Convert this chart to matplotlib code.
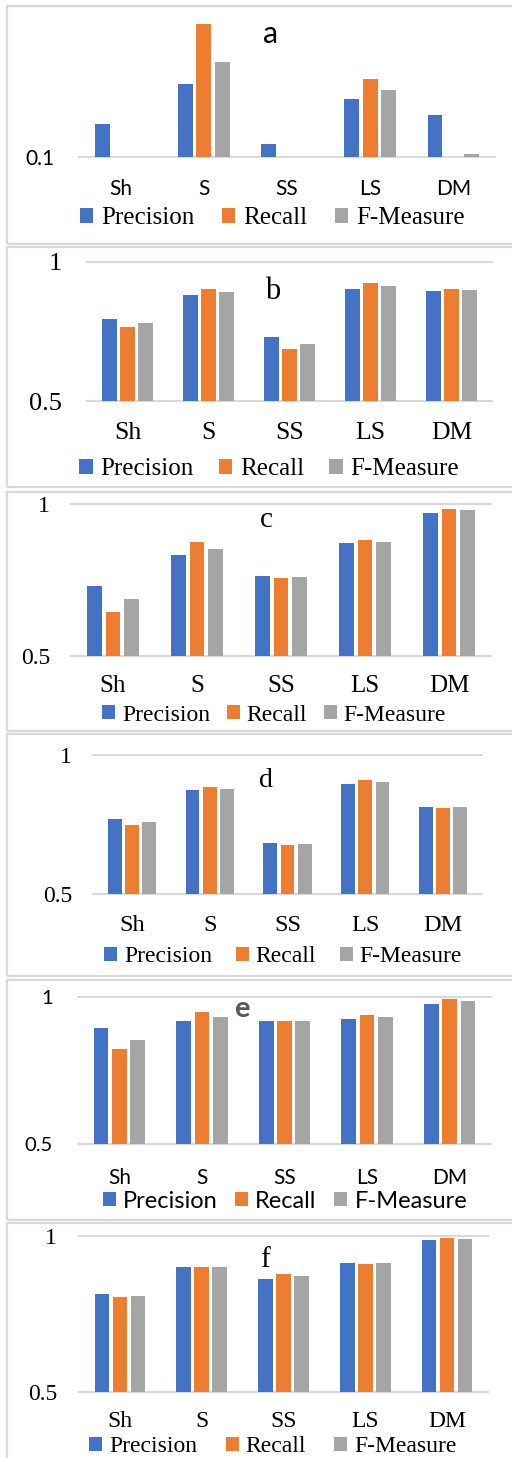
import matplotlib.pyplot as plt
import numpy as np
from matplotlib.patches import Rectangle
from matplotlib.ticker import NullLocator

W, H = 512, 1458

categories = ["Sh", "S", "SS", "LS", "DM"]
series_names = ["Precision", "Recall", "F-Measure"]
colors = ["#4472C4", "#ED7D31", "#A5A5A5"]

# panel a sits on a log axis that starts at 0.1
precision_a = [0.172, 0.332, 0.124, 0.26, 0.20]
recall_a = [0.100, 0.89, 0.096, 0.36, 0.096]
fmeasure_a = [0.096, 0.477, 0.096, 0.30, 0.1045]

precision_b = [0.795, 0.881, 0.729, 0.903, 0.897]
recall_b = [0.765, 0.903, 0.687, 0.925, 0.903]
fmeasure_b = [0.780, 0.892, 0.705, 0.913, 0.899]

precision_c = [0.731, 0.831, 0.764, 0.871, 0.971]
recall_c = [0.646, 0.875, 0.756, 0.880, 0.985]
fmeasure_c = [0.687, 0.853, 0.760, 0.876, 0.979]

precision_d = [0.769, 0.873, 0.685, 0.895, 0.812]
recall_d = [0.748, 0.885, 0.677, 0.909, 0.810]
fmeasure_d = [0.759, 0.878, 0.680, 0.903, 0.812]

precision_e = [0.893, 0.918, 0.919, 0.926, 0.976]
recall_e = [0.822, 0.949, 0.919, 0.940, 0.993]
fmeasure_e = [0.855, 0.933, 0.919, 0.932, 0.985]

precision_f = [0.813, 0.902, 0.863, 0.914, 0.988]
recall_f = [0.803, 0.902, 0.877, 0.911, 0.993]
fmeasure_f = [0.808, 0.902, 0.871, 0.912, 0.990]

SANS = "Lato"
SERIF = "Liberation Serif"
GRID = "#d9d9d9"

# layout of each panel, in pixels of the final image
# box = (left, y of top value, right, y of bottom value)
panels = [
    dict(label="a", data=(precision_a, recall_a, fmeasure_a), log=True,
         lims=(0.1, 1.0), ticks=[0.1], ticklabels=["0.1"],
         box=(79, 17, 495, 157), border=(6, 244),
         tick_font=SANS, tick_size=15, tick_pad=24,
         cat_font=SANS, cat_size=15, cat_pad=22,
         leg_font=SERIF, leg_size=18, leg_xy=(272, 218), colsp=1.1,
         title_font=SANS, title_size=22, title_xy=(271, 43),
         title_color="black", title_weight="normal"),
    dict(label="b", data=(precision_b, recall_b, fmeasure_b), log=False,
         lims=(0.5, 1.0), ticks=[0.5, 1.0], ticklabels=["0.5", "1"],
         box=(87, 262, 492, 401), border=(247, 487),
         tick_font=SERIF, tick_size=19, tick_pad=25,
         cat_font=SERIF, cat_size=18.5, cat_pad=21,
         leg_font=SERIF, leg_size=18, leg_xy=(269, 469), colsp=1.0,
         title_font=SERIF, title_size=22, title_xy=(273, 299),
         title_color="black", title_weight="normal"),
    dict(label="c", data=(precision_c, recall_c, fmeasure_c), log=False,
         lims=(0.5, 1.0), ticks=[0.5, 1.0], ticklabels=["0.5", "1"],
         box=(71, 504, 491, 656), border=(492, 731),
         tick_font=SERIF, tick_size=17, tick_pad=21,
         cat_font=SERIF, cat_size=18, cat_pad=19,
         leg_font=SERIF, leg_size=17, leg_xy=(274, 715), colsp=0.7,
         title_font=SERIF, title_size=21, title_xy=(266, 527),
         title_color="black", title_weight="normal"),
    dict(label="d", data=(precision_d, recall_d, fmeasure_d), log=False,
         lims=(0.5, 1.0), ticks=[0.5, 1.0], ticklabels=["0.5", "1"],
         box=(93, 755, 482, 894), border=(734, 976),
         tick_font=SERIF, tick_size=17, tick_pad=21,
         cat_font=SERIF, cat_size=17.5, cat_pad=21,
         leg_font=SERIF, leg_size=17, leg_xy=(283, 957), colsp=1.0,
         title_font=SERIF, title_size=20, title_xy=(266, 787),
         title_color="black", title_weight="normal"),
    dict(label="e", data=(precision_e, recall_e, fmeasure_e), log=False,
         lims=(0.5, 1.0), ticks=[0.5, 1.0], ticklabels=["0.5", "1"],
         box=(78, 997, 491, 1144), border=(980, 1220),
         tick_font=SANS, tick_size=14.5, tick_pad=25,
         cat_font=SANS, cat_size=15, cat_pad=24,
         leg_font=SANS, leg_size=17, leg_xy=(285, 1201), colsp=0.75,
         title_font=SANS, title_size=21, title_xy=(242, 1017),
         title_color="#595959", title_weight="bold"),
    dict(label="f", data=(precision_f, recall_f, fmeasure_f), log=False,
         lims=(0.5, 1.0), ticks=[0.5, 1.0], ticklabels=["0.5", "1"],
         box=(79, 1236, 488, 1392), border=(1223, 1470),
         tick_font=SERIF, tick_size=17, tick_pad=22,
         cat_font=SERIF, cat_size=17, cat_pad=19,
         leg_font=SERIF, leg_size=17, leg_xy=(273, 1447), colsp=1.2,
         title_font=SERIF, title_size=21, title_xy=(265, 1267),
         title_color="black", title_weight="normal"),
]


def px_axes(fig, left, top, right, bottom):
    return fig.add_axes([left / W, 1 - bottom / H, (right - left) / W, (bottom - top) / H])


fig = plt.figure(figsize=(W / 100, H / 100), dpi=100)

x = np.arange(len(categories))
width = 0.178
step = 0.221

for p in panels:
    # grey frame round each panel
    top, bottom = p["border"]
    fig.add_artist(Rectangle((7 / W, 1 - bottom / H), (W + 20) / W, (bottom - top) / H,
                             transform=fig.transFigure, fill=False, ec=GRID, lw=1.6))

    ax = px_axes(fig, *p["box"])
    if p["log"]:
        ax.set_yscale("log")
    base = p["lims"][0]
    handles = []
    for i, (vals, color) in enumerate(zip(p["data"], colors)):
        vals = np.array(vals)
        bars = ax.bar(x + (i - 1) * step, vals - base, width, bottom=base, color=color, zorder=2)
        handles.append(bars)

    ax.set_xlim(-0.5, len(categories) - 0.5)
    ax.set_ylim(*p["lims"])
    ax.set_yticks(p["ticks"], p["ticklabels"], fontfamily=p["tick_font"], fontsize=p["tick_size"])
    ax.yaxis.set_minor_locator(NullLocator())
    ax.set_xticks(x, categories, fontfamily=p["cat_font"], fontsize=p["cat_size"])
    ax.tick_params(axis="y", length=0, pad=p["tick_pad"] * 0.72)
    ax.tick_params(axis="x", length=0, pad=p["cat_pad"] * 0.72)
    ax.yaxis.grid(True, color=GRID, lw=1.5, zorder=0)
    for gl in ax.get_ygridlines():
        gl.set_clip_on(False)
    ax.set_axisbelow(True)
    for s in ax.spines.values():
        s.set_visible(False)
    ax.patch.set_alpha(0)

    tx, ty = p["title_xy"]
    fig.text(tx / W, 1 - ty / H, p["label"], ha="center", va="baseline",
             fontfamily=p["title_font"], fontsize=p["title_size"],
             color=p["title_color"], fontweight=p["title_weight"])

    lx, ly = p["leg_xy"]
    fig.legend(handles, series_names, loc="center", bbox_to_anchor=(lx / W, 1 - ly / H),
               ncol=3, frameon=False, prop={"family": p["leg_font"], "size": p["leg_size"]},
               handlelength=0.55, handleheight=0.55, handletextpad=0.3,
               columnspacing=p["colsp"], borderpad=0, borderaxespad=0)

plt.savefig("out.png", dpi=100)
